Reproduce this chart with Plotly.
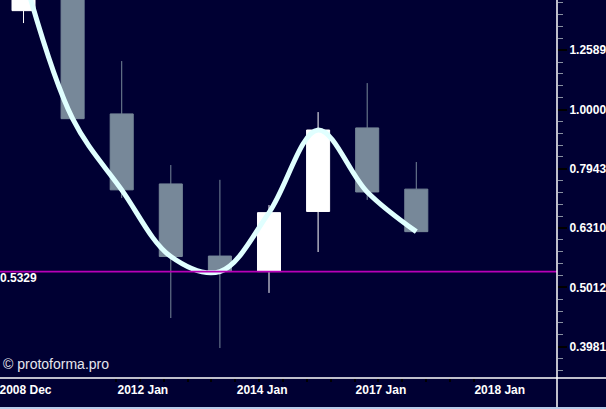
import math
import plotly.graph_objects as go

# ---- data ----
period_idx = [0, 1, 2, 3, 4, 5, 6, 7, 8]
open_vals = [1.468, 1.72, 0.983, 0.749, 0.566, 0.5329, 0.673, 0.931, 0.734]
high_vals = [1.75, 1.80, 1.207, 0.806, 0.761, 0.690, 0.990, 1.108, 0.8155]
low_vals = [1.399, 0.965, 0.709, 0.445, 0.396, 0.4905, 0.575, 0.704, 0.6223]
close_vals = [1.69, 0.965, 0.732, 0.565, 0.5329, 0.670, 0.9235, 0.726, 0.6223]
level_value = 0.5329
x_tick_labels = ["2008 Dec", "2012 Jan", "2014 Jan", "2017 Jan", "2018 Jan"]
x_tick_pos = [0.04, 2.43, 4.86, 7.28, 9.70]

BG = "#000033"
UP = "#FFFFFF"
DOWN = "#778899"
FONT = dict(family="Liberation Sans, Arial, sans-serif", size=12, color="white", weight="bold")

x_range = [-0.479, 10.866]
y_range = [math.log10(0.3525), math.log10(1.530)]
mark_pos = [1.884 + 0.486 * k for k in range(16)]

fig = go.Figure()
fig.add_trace(go.Candlestick(
    x=period_idx, open=open_vals, high=high_vals, low=low_vals, close=close_vals,
    increasing=dict(fillcolor=UP, line=dict(color=UP, width=1)),
    decreasing=dict(fillcolor=DOWN, line=dict(color=DOWN, width=1)),
    whiskerwidth=0, hoverinfo="skip", showlegend=False,
))
fig.add_trace(go.Scatter(
    x=period_idx, y=close_vals, mode="lines",
    line=dict(shape="spline", color="#E0FFFF", width=5),
    hoverinfo="skip", showlegend=False,
))
fig.add_trace(go.Scatter(x=[None], y=[None], xaxis="x2", showlegend=False, hoverinfo="skip"))

fig.update_layout(
    width=606, height=409,
    margin=dict(l=0, r=49, t=0, b=31),
    paper_bgcolor=BG, plot_bgcolor=BG,
    boxgap=0.33,
    showlegend=False,
    xaxis=dict(
        type="linear", range=x_range, rangeslider=dict(visible=False),
        tickmode="array", tickvals=x_tick_pos, ticktext=x_tick_labels,
        ticks="", showgrid=False, zeroline=False, showline=False,
        tickfont=FONT, fixedrange=True, ticklabeloverflow="allow",
        ticklabelstandoff=3,
    ),
    xaxis2=dict(
        overlaying="x", anchor="y", side="bottom", range=x_range,
        tickmode="array", tickvals=mark_pos, ticks="outside", ticklen=3,
        tickwidth=2, tickcolor="black", showticklabels=False,
        showgrid=False, zeroline=False, showline=False, fixedrange=True,
    ),
    yaxis=dict(
        type="log", range=y_range, side="right",
        tickmode="linear", tick0=0, dtick=0.1, tickformat=".4f",
        ticks="outside", ticklen=9, tickwidth=2, tickcolor="black",
        minor=dict(ticks="outside", tick0=0, dtick=0.02, ticklen=5, tickwidth=1, tickcolor="#8890A0"),
        showgrid=False, zeroline=False, showline=False,
        tickfont=FONT, fixedrange=True, ticklabeloverflow="allow",
    ),
    shapes=[
        dict(type="line", xref="paper", yref="y", x0=0, x1=1, y0=level_value, y1=level_value,
             line=dict(color="#B800B8", width=1.6), layer="above"),
        dict(type="line", xref="paper", yref="paper", x0=1, x1=1, y0=-0.08, y1=1,
             line=dict(color="white", width=1.5), layer="above"),
        dict(type="line", xref="paper", yref="paper", x0=0, x1=1.09, y0=0, y1=0,
             line=dict(color="white", width=1.5), layer="above"),
        dict(type="line", xref="paper", yref="paper", x0=0, x1=1.09, y0=-0.0794, y1=-0.0794,
             line=dict(color="#B8CCEA", width=2), layer="above"),
    ],
    annotations=[
        dict(xref="paper", yref="y", x=0, y=math.log10(level_value), text=f"{level_value:.4f}",
             showarrow=False, xanchor="left", yanchor="top", xshift=-2, yshift=3, font=FONT),
        dict(xref="paper", yref="paper", x=0, y=0.037, text="© protoforma.pro",
             showarrow=False, xanchor="left", yanchor="middle", xshift=1,
             font=dict(family="Liberation Sans, Arial, sans-serif", size=14, color="#E6E6EE")),
    ],
)

fig.write_html("out.html", config={"displayModeBar": False, "staticPlot": True},
               post_script="document.body.style.margin='0';document.body.style.overflow='hidden';")
